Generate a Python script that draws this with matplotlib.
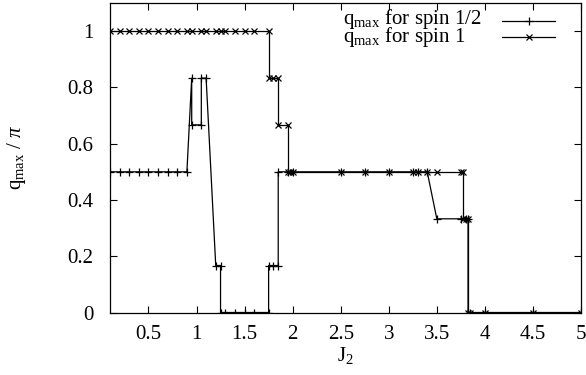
import matplotlib
matplotlib.use("Agg")
import matplotlib.pyplot as plt

plt.rcParams['font.family'] = ['Liberation Serif', 'DejaVu Serif']
plt.rcParams['mathtext.fontset'] = 'custom'
plt.rcParams['mathtext.rm'] = 'Liberation Serif'
plt.rcParams['mathtext.it'] = 'Liberation Serif:italic'

# spin 1/2 (+ markers), points in drawing order
j_half = [0.1, 0.2, 0.3, 0.4, 0.5, 0.6, 0.7, 0.8, 0.9,
          0.95, 0.95, 1.05, 1.05, 1.1,
          1.2, 1.25, 1.25, 1.3, 1.4, 1.5, 1.6, 1.75,
          1.75, 1.8, 1.85, 1.85, 1.95, 2.0, 2.5, 2.75, 3.0, 3.25, 3.3, 3.4,
          3.5, 3.75, 3.8, 3.825, 3.825, 3.85, 4.0, 4.5, 5.0]
q_half = [0.5, 0.5, 0.5, 0.5, 0.5, 0.5, 0.5, 0.5, 0.5,
          0.833, 0.667, 0.667, 0.833, 0.833,
          0.167, 0.167, 0.0, 0.0, 0.0, 0.0, 0.0, 0.0,
          0.167, 0.167, 0.167, 0.5, 0.5, 0.5, 0.5, 0.5, 0.5, 0.5, 0.5, 0.5,
          0.333, 0.333, 0.333, 0.333, 0.0, 0.0, 0.0, 0.0, 0.0]

# spin 1 (x markers)
j_one = [0.1, 0.2, 0.3, 0.4, 0.5, 0.6, 0.7, 0.8, 0.9, 0.95, 1.05, 1.1,
         1.2, 1.25, 1.3, 1.4, 1.5, 1.6, 1.75,
         1.75, 1.8, 1.85, 1.85, 1.95, 1.95, 1.975, 2.0, 2.5, 2.75, 3.0,
         3.25, 3.3, 3.4, 3.5, 3.75, 3.775, 3.775, 3.8, 3.825, 3.825, 3.85,
         4.0, 4.5, 5.0]
q_one = [1.0, 1.0, 1.0, 1.0, 1.0, 1.0, 1.0, 1.0, 1.0, 1.0, 1.0, 1.0,
         1.0, 1.0, 1.0, 1.0, 1.0, 1.0, 1.0,
         0.833, 0.833, 0.833, 0.667, 0.667, 0.5, 0.5, 0.5, 0.5, 0.5, 0.5,
         0.5, 0.5, 0.5, 0.5, 0.5, 0.5, 0.333, 0.333, 0.333, 0.0, 0.0,
         0.0, 0.0, 0.0]

labels = [r'q$_{\rm max}$ for spin 1/2', r'q$_{\rm max}$ for spin 1']

xticks = [0.5, 1, 1.5, 2, 2.5, 3, 3.5, 4, 4.5, 5]
xlabels = ['0.5', '1', '1.5', '2', '2.5', '3', '3.5', '4', '4.5', '5']
yticks = [0, 0.2, 0.4, 0.6, 0.8, 1]
ylabels = ['0', '0.2', '0.4', '0.6', '0.8', '1']

fs = 15

fig = plt.figure(figsize=(5.86, 3.75), dpi=100)
ax = fig.add_axes([110/586, 1 - 312.5/375, 471/586, 309.5/375])

l1, = ax.plot(j_half, q_half, color='black', lw=0.9, marker='+', ms=6, mew=0.9)
l2, = ax.plot(j_one, q_one, color='black', lw=0.9, marker='x', ms=4.5, mew=0.9)

ax.set_xlim(0.1, 5)
ax.set_ylim(0, 1.1)
ax.set_xticks(xticks)
ax.set_xticklabels(xlabels)
ax.set_yticks(yticks)
ax.set_yticklabels(ylabels)
ax.tick_params(direction='in', top=True, right=True, length=5, width=0.8,
               labelsize=fs)
ax.tick_params(axis='x', pad=9)
ax.tick_params(axis='y', pad=12)
for s in ax.spines.values():
    s.set_linewidth(0.9)

ax.set_xlabel(r'J$_2$', fontsize=fs, labelpad=1)
ax.set_ylabel(r'q$_{\rm max}$ / $\pi$', fontsize=fs, labelpad=28)

# key: line samples from a legend, left-aligned label block beside it
ax.legend([l1, l2], ['', ''], loc='upper right', bbox_to_anchor=(0.945, 0.967),
          frameon=False, numpoints=1, handlelength=2.55, fontsize=fs,
          labelspacing=-0.15, borderpad=0, borderaxespad=0, handletextpad=0)
ax.text(0.495, 0.987, '\n'.join(labels), transform=ax.transAxes,
        ha='left', va='top', fontsize=fs, linespacing=0.66)

fig.savefig('out.png', dpi=100)
